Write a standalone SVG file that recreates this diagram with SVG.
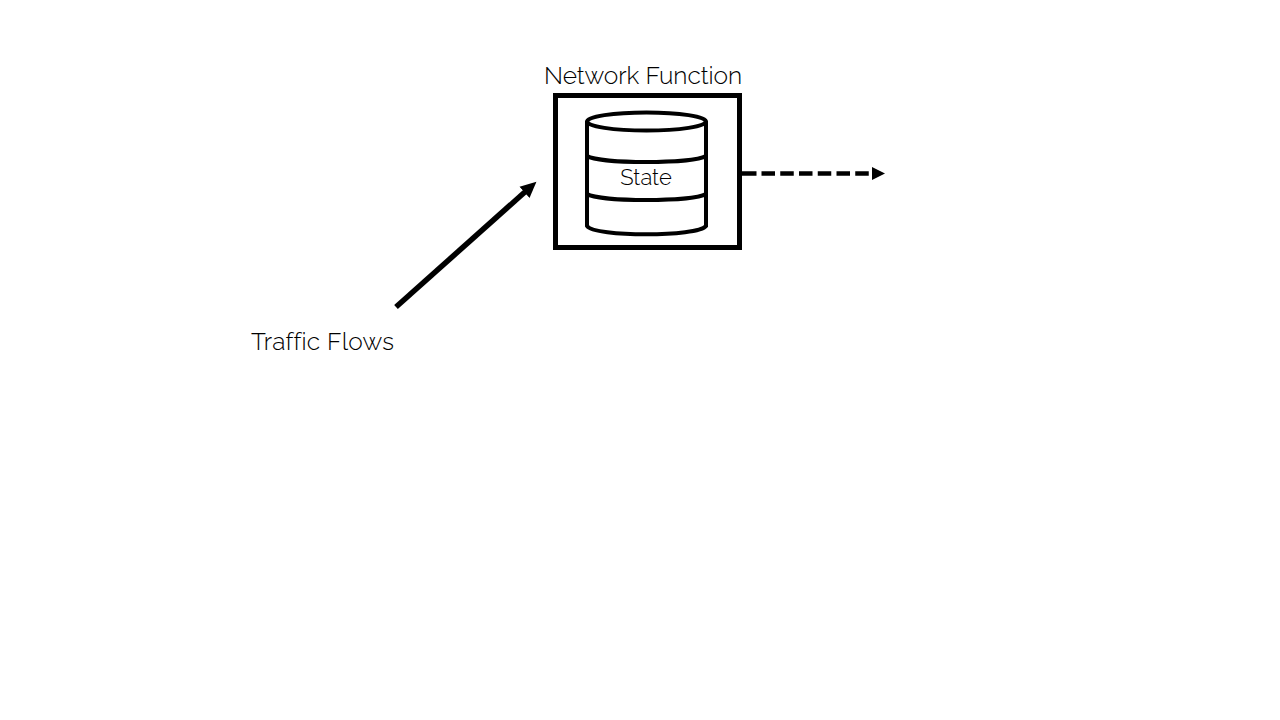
<svg xmlns="http://www.w3.org/2000/svg" width="1280" height="720" viewBox="0 0 1280 720">
<style>
text{font-family:"Raleway","Open Sans","Noto Sans",sans-serif;fill:#000;font-size:24.500px;font-weight:300;font-variant-ligatures:none}
.s{fill:none;stroke:#000}
</style>
<defs>
<marker id="big" markerUnits="userSpaceOnUse" markerWidth="18" markerHeight="18" refX="2" refY="9" orient="auto"><path d="M0 1.500L16 9L0 16.500Z" fill="#000"/></marker>
<marker id="small" markerUnits="userSpaceOnUse" markerWidth="16" markerHeight="16" refX="1" refY="8" orient="auto"><path d="M0 1.500L13 8L0 14.500Z" fill="#000"/></marker>
</defs>
<rect width="1280" height="720" fill="#fff"/>
<g id="connectors">
<path class="s" stroke-width="5.500" d="M396 307L526 191" marker-end="url(#big)"/>
<path class="s" stroke-width="4.500" stroke-dasharray="14.500 5 13.500 5.250 13.500 5.250 13.500 5.250 13.500 5.250 13.500 5.250 13.500 5.250" d="M742 173.500H873" marker-end="url(#small)"/>
</g>
<g id="network-function">
<rect class="s" x="555.500" y="95.500" width="184" height="152" stroke-width="5"/>
<text x="544" y="83.500" textLength="198">Network Function</text>
</g>
<g id="state">
<path class="s" stroke-width="4" d="M587 121V226C594 237 698 237 706 226V121"/>
<ellipse class="s" stroke-width="4" cx="646.500" cy="121.500" rx="59.500" ry="9"/>
<path class="s" stroke-width="4" d="M587 156C600 164 692 164 706 156M587 194C600 202 692 202 706 194"/>
<text x="646" y="185" text-anchor="middle" style="font-size:22px">State</text>
</g>
<g id="traffic-flows"><text x="251" y="349.500" textLength="143">Traffic Flows</text></g>
</svg>
